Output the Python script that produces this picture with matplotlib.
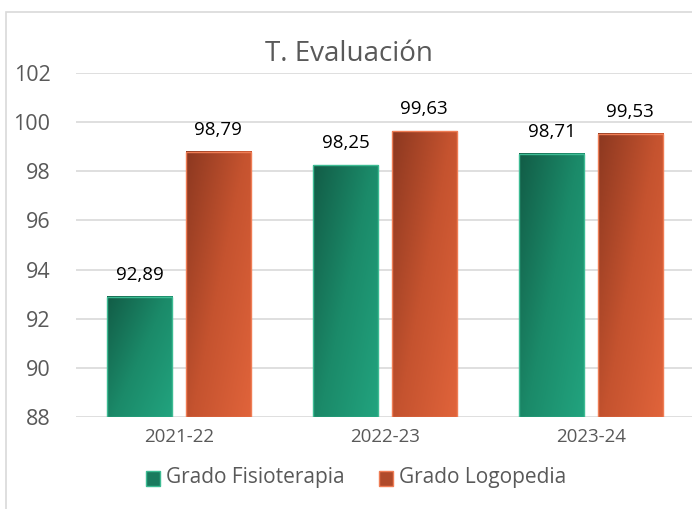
import numpy as np
import matplotlib
matplotlib.use("Agg")
import matplotlib.pyplot as plt
from matplotlib.colors import LinearSegmentedColormap
from matplotlib.patches import Rectangle

categories = ["2021-22", "2022-23", "2023-24"]
fisioterapia = [92.89, 98.25, 98.71]
logopedia = [98.79, 99.63, 99.53]
series_names = ["Grado Fisioterapia", "Grado Logopedia"]
yticks = [88, 90, 92, 94, 96, 98, 100, 102]

plt.rcParams['font.family'] = ['Open Sans', 'DejaVu Sans']
GRAY = "#595959"

fig = plt.figure(figsize=(6.92, 5.09), dpi=100)
ax = fig.add_axes([76/692, 1-417/509, (694-76)/692, (417-73)/509])

green_cmap = LinearSegmentedColormap.from_list("g", ["#125c46", "#1b8a69", "#22a47f"])
orange_cmap = LinearSegmentedColormap.from_list("o", ["#8c3820", "#c5532f", "#e1643b"])

x = np.arange(len(categories))
w = 0.316
off = 0.19
ymin = 88

yy, xx = np.mgrid[0:1:100j, 0:1:100j]
grad = (xx * 0.55 + yy * 0.45)

def gbar(xc, val, cmap, edge):
    left = xc - w/2
    ax.imshow(grad, cmap=cmap, extent=[left, left + w, ymin, val], origin='upper',
              aspect='auto', zorder=2, interpolation='bilinear')
    r = Rectangle((left, ymin), w, val - ymin, facecolor='none', edgecolor=edge, lw=1.0, zorder=3)
    ax.add_patch(r)

for i in range(len(categories)):
    gbar(x[i] - off, fisioterapia[i], green_cmap, "#3dbb93")
    gbar(x[i] + off, logopedia[i], orange_cmap, "#ef7d55")
    ax.text(x[i] - off, fisioterapia[i] + 0.9, f"{fisioterapia[i]:.2f}".replace('.', ','),
            ha='center', va='center', fontsize=13.5, color='black')
    ax.text(x[i] + off, logopedia[i] + 0.9, f"{logopedia[i]:.2f}".replace('.', ','),
            ha='center', va='center', fontsize=13.5, color='black')

ax.set_xlim(-0.5, 2.5)
ax.set_ylim(88, 102)
ax.set_yticks(yticks)
ax.set_yticklabels([str(v) for v in yticks], fontsize=15.5, color=GRAY)
ax.set_xticks(x)
ax.set_xticklabels(categories, fontsize=13.5, color=GRAY)
ax.tick_params(axis='both', length=0)
ax.tick_params(axis='y', pad=18.5)
ax.tick_params(axis='x', pad=8)
ax.grid(axis='y', color='#d9d9d9', lw=1.2, zorder=0)
ax.set_axisbelow(True)
for s in ax.spines.values():
    s.set_visible(False)

fig.text(349/692, 1-54/509, "T. Evaluación", ha='center', va='center', fontsize=20, color=GRAY)

# legend
lx = [146/692, 379/692]
for i, (name, c1, c2) in enumerate(zip(series_names, ["#1a7a5e", "#b04a2a"], ["#3dbb93", "#ef7d55"])):
    fig.patches.append(Rectangle((lx[i], 1-486/509), 14/692, 15/509, transform=fig.transFigure,
                                 facecolor=c1, edgecolor=c2, lw=1))
    fig.text(lx[i] + 20/692, 1-478/509, name, ha='left', va='center', fontsize=15, color=GRAY)

# chart frame
fig.patches.append(Rectangle((6/692, -0.1), 1.2, 1 - 12/509 + 0.1, transform=fig.transFigure,
                             facecolor='none', edgecolor='#d9d9d9', lw=1.2))

fig.savefig("out.png", dpi=100)
